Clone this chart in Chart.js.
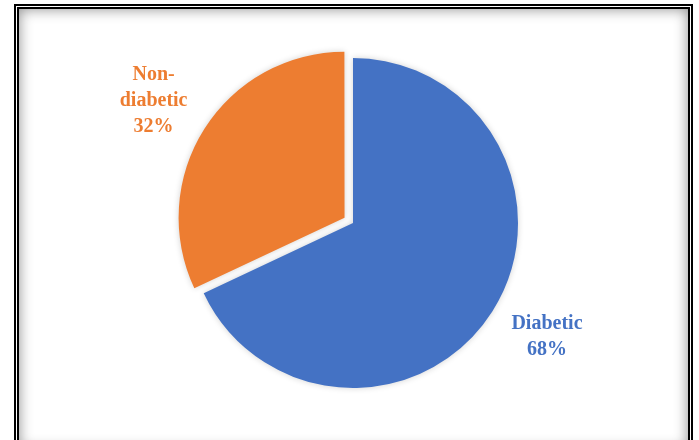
<!DOCTYPE html>
<html>
<head>
<meta charset="utf-8">
<script src="https://cdn.jsdelivr.net/npm/chart.js@4.4.0/dist/chart.umd.min.js"></script>
<style>
  html, body { margin: 0; padding: 0; background: #fff; width: 699px; height: 440px; overflow: hidden; }
  #frame { position: absolute; left: 14px; top: 4px; width: 669px; height: 440px;
           border: 5px double #000; box-shadow: inset 0 0 14px rgba(0,0,0,0.45); }
  #wrap { position: absolute; left: 0; top: 0; width: 699px; height: 440px; }
</style>
</head>
<body>
<div id="frame"></div>
<div id="wrap"><canvas id="c" width="699" height="440"></canvas></div>
<script>
const categories = ["Diabetic", "Non-diabetic"];
const labelLines = [["Diabetic"], ["Non-", "diabetic"]];
const values = [68, 32];
const colors = ["#4472C4", "#ED7D31"];

const shadowPlugin = {
  id: 'sliceShadow',
  beforeDatasetDraw(chart) {
    const ctx = chart.ctx;
    ctx.save();
    ctx.shadowColor = 'rgba(0,0,0,0.18)';
    ctx.shadowBlur = 6;
  },
  afterDatasetDraw(chart) {
    chart.ctx.restore();
  }
};

const labelPlugin = {
  id: 'sliceLabels',
  afterDatasetsDraw(chart) {
    const ctx = chart.ctx;
    const meta = chart.getDatasetMeta(0);
    const total = values.reduce((a, b) => a + b, 0);
    const nudge = [[4, -7], [-1, 4]];
    ctx.save();
    ctx.font = 'bold 20px "Liberation Serif", "Times New Roman", serif';
    ctx.textAlign = 'center';
    ctx.textBaseline = 'middle';
    meta.data.forEach((arc, i) => {
      const mid = (arc.startAngle + arc.endAngle) / 2;
      const off = (arc.options.offset || 0) / 4;
      const d = arc.outerRadius + 60 + off;
      const cx = arc.x + Math.cos(mid) * d + nudge[i][0];
      const cy = arc.y + Math.sin(mid) * d + nudge[i][1];
      const lines = labelLines[i].concat([Math.round(values[i] / total * 100) + "%"]);
      const lh = 26;
      ctx.fillStyle = colors[i];
      lines.forEach((t, k) => {
        ctx.fillText(t, cx, cy + (k - (lines.length - 1) / 2) * lh);
      });
    });
    ctx.restore();
  }
};

new Chart(document.getElementById('c'), {
  type: 'pie',
  data: {
    labels: categories,
    datasets: [{
      data: values,
      backgroundColor: colors,
      borderWidth: 0,
      offset: [0, 40]
    }]
  },
  options: {
    responsive: false,
    animation: false,
    radius: 165,
    layout: { padding: { left: 7, top: 6 } },
    plugins: { legend: { display: false }, tooltip: { enabled: false } }
  },
  plugins: [shadowPlugin, labelPlugin]
});
</script>
</body>
</html>
